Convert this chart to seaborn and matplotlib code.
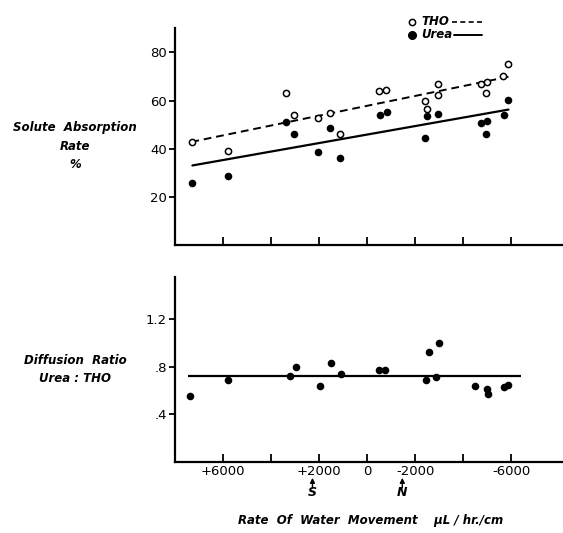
import numpy as np
import pandas as pd
import seaborn as sns
import matplotlib.pyplot as plt

# rate of water movement (uL/hr/cm), + = left side of axis
tho_x = [7280, 5780, 3400, 3040, 2030, 1530, 1140, -510, -800, -2420, -2470,
         -2960, -2930, -4750, -5000, -4930, -5650, -5880]
tho_y = [42.7, 39.0, 63.2, 54.2, 52.8, 54.9, 46.0, 64.0, 64.4, 59.9, 56.7,
         66.8, 62.2, 66.8, 67.7, 63.3, 70.1, 75.2]
urea_x = [7280, 5800, 3380, 3030, 2030, 1530, 1140, -540, -820, -2400, -2490,
          -2960, -4750, -5000, -4960, -5680, -5880]
urea_y = [25.9, 28.8, 50.9, 46.3, 38.5, 48.7, 36.1, 54.2, 55.4, 44.4, 53.5,
          54.6, 50.8, 51.6, 46.3, 53.9, 60.3]
ratio_x = [7380, 5790, 3200, 2970, 1970, 1510, 1110, -490, -760, -2430, -2580,
           -2880, -2990, -4490, -4990, -5010, -5680, -5860]
ratio_y = [0.55, 0.69, 0.72, 0.80, 0.64, 0.83, 0.74, 0.77, 0.77, 0.69, 0.92,
           0.71, 1.00, 0.64, 0.61, 0.57, 0.63, 0.65]

x_ticks = [6000, 4000, 2000, 0, -2000, -4000, -6000]
x_labels = ['+6000', '', '+2000', '0', '-2000', '', '-6000']
s_pos, n_pos = 2280, -1460   # arrows under the axis

tho = pd.DataFrame({'x': tho_x, 'y': tho_y})
urea = pd.DataFrame({'x': urea_x, 'y': urea_y})
ratio = pd.DataFrame({'x': ratio_x, 'y': ratio_y})

sns.set_style('white')
plt.rcParams['font.family'] = ['DejaVu Sans']
for k in ('text.color', 'axes.labelcolor', 'xtick.color', 'ytick.color',
          'axes.edgecolor'):
    plt.rcParams[k] = 'black'

fig = plt.figure(figsize=(5.63, 5.33), dpi=100)
ax1 = fig.add_axes([0.311, 0.540, 0.689, 0.407])
ax2 = fig.add_axes([0.311, 0.133, 0.689, 0.347])

#top panel: absorption rate
sns.scatterplot(x='x', y='y', data=tho, ax=ax1, marker='o', s=20,
                facecolor='white', edgecolor='black', linewidth=1.1, zorder=3)
sns.scatterplot(x='x', y='y', data=urea, ax=ax1, marker='o', s=30,
                color='black', edgecolor='black', linewidth=0, zorder=3)
sns.regplot(x='x', y='y', data=tho, ax=ax1, scatter=False, ci=None,
            color='black', line_kws={'lw': 1.4, 'ls': (0, (4, 2.5))})
sns.regplot(x='x', y='y', data=urea, ax=ax1, scatter=False, ci=None,
            color='black', line_kws={'lw': 1.6})
ax1.set_xlim(8000, -8150)
ax1.set_ylim(0, 90)
ax1.set_yticks([20, 40, 60, 80])
ax1.set_xticks(x_ticks)
ax1.set_xticklabels([])

#legend drawn by hand (marker, name, line)
ax1.plot([0.61], [1.03], 'o', ms=4.5, mfc='white', mec='black', mew=1.1,
         transform=ax1.transAxes, clip_on=False)
ax1.text(0.635, 1.03, 'THO', transform=ax1.transAxes, va='center',
         fontsize=8.5, fontstyle='italic', fontweight='bold')
ax1.plot([0.715, 0.79], [1.03, 1.03], color='black', lw=1.2, ls=(0, (3, 2)),
         transform=ax1.transAxes, clip_on=False)
ax1.plot([0.61], [0.97], 'o', ms=5.5, color='black',
         transform=ax1.transAxes, clip_on=False)
ax1.text(0.635, 0.97, 'Urea', transform=ax1.transAxes, va='center',
         fontsize=8.5, fontstyle='italic', fontweight='bold')
ax1.plot([0.718, 0.79], [0.97, 0.97], color='black', lw=1.4,
         transform=ax1.transAxes, clip_on=False)

#bottom panel: diffusion ratio
sns.scatterplot(x='x', y='y', data=ratio, ax=ax2, marker='o', s=30,
                color='black', edgecolor='black', linewidth=0, zorder=3)
ax2.hlines(np.mean(ratio_y), 7450, -6400, color='black', lw=1.6)
ax2.set_xlim(8000, -8150)
ax2.set_ylim(0, 1.55)
ax2.set_yticks([0.4, 0.8, 1.2])
ax2.set_yticklabels(['.4', '.8', '1.2'])
ax2.set_xticks(x_ticks)
ax2.set_xticklabels(x_labels)

for ax in (ax1, ax2):
    sns.despine(ax=ax)
    ax.spines['left'].set_linewidth(1.6)
    ax.spines['bottom'].set_linewidth(1.6)
    ax.set_xlabel('')
    ax.set_ylabel('')
    ax.tick_params(axis='x', direction='in', length=6, width=1.3, pad=2,
                   labelsize=9.5)
    ax.tick_params(axis='y', direction='out', length=4, width=1.3, pad=2,
                   labelsize=9.5)
    ax.tick_params(left=True, bottom=True)

for pos, name in ((s_pos, 'S'), (n_pos, 'N')):
    ax2.annotate('', xy=(pos, -0.085), xycoords=('data', 'axes fraction'),
                 xytext=(pos, -0.14), textcoords=('data', 'axes fraction'),
                 arrowprops=dict(arrowstyle='-|>', color='black', lw=1.0,
                                 mutation_scale=7, shrinkA=0, shrinkB=0))
    ax2.text(pos, -0.165, name, transform=ax2.get_xaxis_transform(),
             ha='center', va='center', fontsize=9, fontstyle='italic',
             fontweight='bold')

fig.text(0.133, 0.726, 'Solute  Absorption\nRate\n%', ha='center',
         va='center', fontsize=8.5, fontstyle='italic', fontweight='bold',
         linespacing=1.55)
fig.text(0.133, 0.306, 'Diffusion  Ratio\nUrea : THO', ha='center',
         va='center', fontsize=8.5, fontstyle='italic', fontweight='bold',
         linespacing=1.5)
fig.text(0.659, 0.023, 'Rate  Of  Water  Movement    \u00b5L / hr./cm',
         ha='center', va='center', fontsize=8.5, fontstyle='italic',
         fontweight='bold')

fig.savefig('out.png', dpi=100)
